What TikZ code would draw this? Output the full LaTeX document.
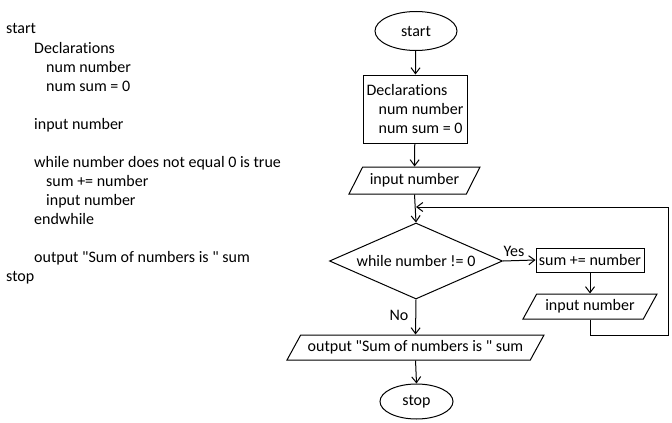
\documentclass[tikz,border=0pt]{standalone}
\usepackage{fontspec}
\setmainfont{Carlito}[Ligatures={TeXOff,NoCommon}]
\usetikzlibrary{shapes.geometric,arrows.meta}
\begin{document}
\begin{tikzpicture}[x=1pt,y=-1pt,
  every node/.style={font=\fontsize{16}{19}\selectfont},
  arr/.style={-{Straight Barb[length=6pt,width=9pt,line width=1pt]}, line width=1pt},
  term/.style={ellipse, draw, line width=1pt, inner sep=0pt},
  proc/.style={rectangle, draw, line width=1pt},
  io/.style={trapezium, trapezium left angle=45, trapezium right angle=135, trapezium stretches body, draw, line width=1pt, inner sep=0pt},
  dec/.style={diamond, draw, line width=1pt, aspect=2.28, inner sep=0pt},
  code/.style={anchor=base west, inner sep=0pt},
  lab/.style={inner sep=0pt}]
\useasboundingbox (0,0) rectangle (672,423);
% pseudocode
\node[code] (p1) at (6,34) {start};
\node[code] (p2) at (34,53) {Declarations};
\node[code] (p3) at (46,72) {num number};
\node[code] (p4) at (46,91) {num sum = 0};
\node[code] (p5) at (34,129) {input number};
\node[code] (p6) at (34,167) {while number does not equal 0 is true};
\node[code] (p7) at (46,186) {sum += number};
\node[code] (p8) at (46,205) {input number};
\node[code] (p9) at (34,224) {endwhile};
\node[code] (p10) at (34,262) {output "Sum of numbers is " sum};
\node[code] (p11) at (6,281) {stop};
% flowchart
\node[proc, minimum width=104, minimum height=68, inner sep=0pt, align=left] (decl) at (415,109)
  {Declarations\\\hspace*{12pt}num number\\\hspace*{12pt}num sum = 0};
\node[term, minimum width=82, minimum height=39] (start) at (416,31) {start};
\node[io, minimum width=131, minimum height=27] (in1) at (414.5,180.5) {input number};
\node[dec, minimum width=173, minimum height=76] (dec) at (416,261) {while number != 0};
\node[proc, minimum width=108, minimum height=24, inner sep=0pt] (sum) at (590,260) {sum += number};
\node[io, minimum width=134, minimum height=25] (in2) at (590,306.5) {input number};
\node[io, minimum width=257, minimum height=25] (out) at (415.5,347.5) {output "Sum of numbers is " sum};
\node[term, minimum width=73, minimum height=35] (stop) at (416.5,401.5) {stop};
\node[lab] (yes) at (514,251) {Yes};
\node[lab] (no) at (399,315) {No};
\coordinate (lc) at (668,335);
\coordinate (join) at (416,207);
\draw[arr] (start) -- (decl);
\draw[arr] (decl) -- (in1);
\draw[arr] (in1.south) -- (dec.north);
\draw[arr] (dec.east) -- (sum.west);
\draw[arr] (sum.south) -- (sum.south |- in2.north);
\draw[arr] (in2.south) |- (lc) |- (join);
\draw[arr] (dec.south) -- (out.north);
\draw[arr] (out.south) -- (stop.north);
\end{tikzpicture}
\end{document}
